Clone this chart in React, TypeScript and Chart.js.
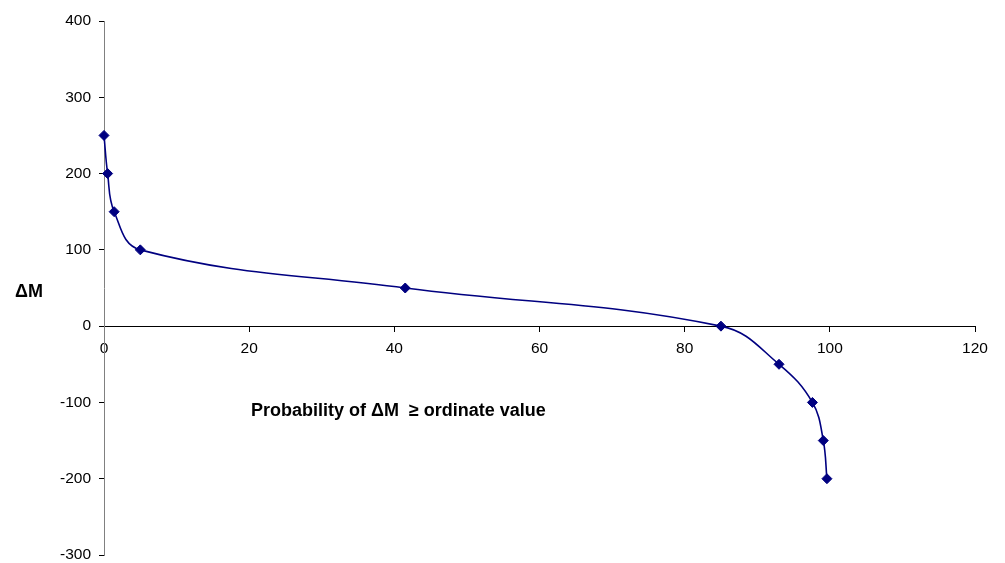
import React, { useEffect, useRef } from "react";
import { Chart, registerables } from "chart.js";

Chart.register(...registerables);

// Data
const probability = [0, 0.5, 1.4, 5, 41.5, 85, 93, 97.6, 99.1, 99.6];
const deltaM = [250, 200, 150, 100, 50, 0, -50, -100, -150, -200];

const xMin = 0;
const xMax = 120;
const xStep = 20;
const yMin = -300;
const yMax = 400;
const yStep = 100;

const yTitle = "ΔM";
const xTitle = "Probability of ΔM  ≥ ordinate value";

const FONT = '"Liberation Sans", Arial, sans-serif';
const NAVY = "#000080";

const titlesPlugin = {
  id: "titles",
  afterDraw(chart: any) {
    const ctx = chart.ctx;
    ctx.save();
    ctx.fillStyle = "#000";
    ctx.font = `bold 18px ${FONT}`;
    ctx.textAlign = "center";
    ctx.textBaseline = "alphabetic";
    ctx.fillText(yTitle, 29, 297);
    ctx.textAlign = "left";
    ctx.fillText(xTitle, 251, 416);
    ctx.restore();
  },
};

export default function App() {
  const ref = useRef<HTMLCanvasElement | null>(null);

  useEffect(() => {
    if (!ref.current) return;
    const points = probability.map((x, i) => ({ x, y: deltaM[i] }));
    const chart = new Chart(ref.current, {
      type: "scatter",
      data: {
        datasets: [
          {
            data: points,
            showLine: true,
            clip: false,
            borderColor: NAVY,
            backgroundColor: NAVY,
            borderWidth: 1.6,
            tension: 0.4,
            pointStyle: "rectRot",
            pointRadius: 5,
            pointBorderWidth: 1,
            pointBorderColor: NAVY,
            pointBackgroundColor: NAVY,
          } as any,
        ],
      },
      options: {
        animation: false,
        responsive: false,
        maintainAspectRatio: false,
        layout: { padding: { left: 0, right: 30, top: 21, bottom: 8 } },
        plugins: {
          legend: { display: false },
          tooltip: { enabled: false },
          title: { display: false },
        },
        scales: {
          x: {
            type: "linear",
            position: { y: 0 } as any,
            min: xMin,
            max: xMax,
            ticks: {
              stepSize: xStep,
              color: "#000",
              font: { family: FONT, size: 15.5 },
              padding: 8,
              maxRotation: 0,
            },
            grid: {
              drawOnChartArea: false,
              drawTicks: true,
              tickLength: 5,
              tickColor: "#000",
            },
            border: { color: "#000", width: 1 },
            afterFit: (s: any) => {
              s.height = 0;
              s.paddingTop = 0;
              s.paddingBottom = 0;
            },
          },
          y: {
            type: "linear",
            position: "left",
            min: yMin,
            max: yMax,
            ticks: {
              stepSize: yStep,
              color: "#000",
              font: { family: FONT, size: 15.5 },
              padding: 8,
            },
            grid: {
              drawOnChartArea: false,
              drawTicks: true,
              tickLength: 5,
              tickColor: "#000",
            },
            border: { color: "#808080", width: 1 },
            afterFit: (s: any) => {
              s.width = 104;
              s.paddingTop = 0;
              s.paddingBottom = 0;
            },
          },
        },
      },
      plugins: [titlesPlugin],
    });
    return () => chart.destroy();
  }, []);

  return (
    <div style={{ position: "absolute", left: 0, top: 0, width: 1005, height: 563, background: "#fff" }}>
      <canvas ref={ref} width={1005} height={563} />
    </div>
  );
}
